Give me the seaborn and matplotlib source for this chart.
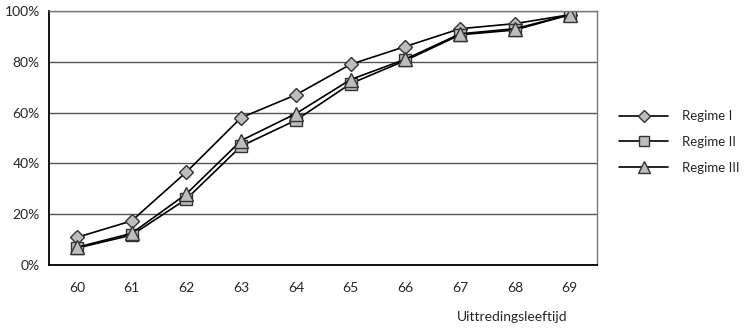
import matplotlib
matplotlib.use("Agg")
import matplotlib.pyplot as plt
import seaborn as sns
import pandas as pd
from matplotlib.ticker import FixedLocator, PercentFormatter

ages = ["60", "61", "62", "63", "64", "65", "66", "67", "68", "69"]
regime_1 = [10.9, 17.4, 36.6, 58.0, 67.0, 79.0, 86.0, 93.0, 95.0, 98.5]
regime_2 = [6.7, 11.8, 26.0, 46.8, 57.0, 71.4, 80.5, 90.6, 92.5, 98.5]
regime_3 = [7.0, 12.5, 28.0, 49.0, 59.6, 73.0, 81.0, 91.0, 93.0, 98.5]
labels = ["Regime I", "Regime II", "Regime III"]

sns.set_style("white")
plt.rcParams["font.family"] = ["Lato", "DejaVu Sans"]

df = pd.DataFrame({"age": ages, labels[0]: regime_1, labels[1]: regime_2, labels[2]: regime_3})

fig = plt.figure(figsize=(7.45, 3.31), dpi=100)
ax = fig.add_axes([0.0664, 0.199, 0.735, 0.768])

markers = ["D", "s", "^"]
msizes = [7.5, 8.5, 10]
for lab, m, ms in zip(labels, markers, msizes):
    sns.lineplot(data=df, x="age", y=lab, ax=ax, color="black", linewidth=1.2,
                 marker=m, markersize=ms, markerfacecolor="#bdbdbd",
                 markeredgecolor="#333333", markeredgewidth=1.0, label=lab)

ax.set_xlim(-0.5, len(ages) - 0.5)
ax.set_ylim(0, 100)
ax.yaxis.set_major_locator(FixedLocator([0, 20, 40, 60, 80, 100]))
ax.yaxis.set_major_formatter(PercentFormatter(decimals=0))
ax.yaxis.grid(True, color="#555555", linewidth=1.0)
ax.set_axisbelow(True)

ax.xaxis.set_minor_locator(FixedLocator([i + 0.5 for i in range(len(ages) - 1)]))
ax.tick_params(axis="x", which="major", length=0, pad=12, labelsize=10)
ax.tick_params(axis="x", which="minor", length=6, width=1, color="black", direction="out")
ax.tick_params(axis="y", length=0, pad=7, labelsize=10)
ax.set_xlabel("")
ax.set_ylabel("")

for side in ["left", "bottom"]:
    ax.spines[side].set_color("black")
    ax.spines[side].set_linewidth(1.3)
for side in ["right", "top"]:
    ax.spines[side].set_color("#777777")
    ax.spines[side].set_linewidth(1.0)

ax.legend(loc="center left", bbox_to_anchor=(0.831, 0.571), bbox_transform=fig.transFigure,
          frameon=False, fontsize=9.5, handlelength=3.7, handletextpad=1.1,
          labelspacing=1.05, borderpad=0, borderaxespad=0, markerscale=0.85)

fig.text(0.687, 0.042, "Uittredingsleeftijd", ha="center", va="center", fontsize=10)

fig.savefig("out.png", dpi=100)
